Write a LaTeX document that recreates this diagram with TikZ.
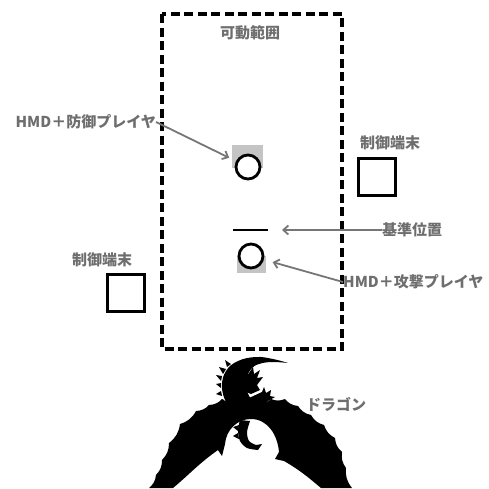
\documentclass[tikz,border=0pt]{standalone}
\usepackage{fontspec}
\setmainfont{Noto Sans CJK JP}
\usepackage{xcolor}
\usetikzlibrary{arrows.meta}
\definecolor{txtgray}{RGB}{110,110,110}
\definecolor{arrgray}{RGB}{118,118,118}
\definecolor{padgray}{RGB}{196,196,196}

\begin{document}
\begin{tikzpicture}[x=1pt,y=-1pt,
  lbl/.style={text=txtgray,font=\fontsize{15}{17}\selectfont\bfseries,inner sep=0pt},
  pointer/.style={draw=arrgray,line width=1.8pt,-{Straight Barb[length=5pt,width=9pt]}},
  term/.style={draw,line width=3.6pt,minimum size=37pt,inner sep=0pt},
  player/.style={draw,fill=white,circle,line width=2.8pt,minimum size=24pt,inner sep=0pt}]
\useasboundingbox (0,0) rectangle (489,488);

% play area
\draw[line width=3.2pt,dash pattern=on 9pt off 4.5pt] (162,14) rectangle (342,349);
\node[lbl] (area) at (250,33) {可動範囲};

% players
\fill[padgray] (232,145) rectangle (263,168);
\node[player] (def) at (248,167) {};
\fill[padgray] (237,256) rectangle (266,273);
\node[player] (atk) at (251,256) {};
\coordinate (refL) at (233,230);
\coordinate (refR) at (268,230);
\draw[line width=2.4pt] (refL) -- (refR);

\node[lbl,anchor=east] (deflbl) at (156,122) {HMD＋防御プレイヤ};
\node[lbl,anchor=west] (reflbl) at (382,230) {基準位置};
\node[lbl,anchor=west] (atklbl) at (343,282) {HMD＋攻撃プレイヤ};
\draw[pointer,shorten >=7.5pt] (deflbl.east) -- (def);
\draw[pointer,shorten >=14pt] (reflbl.west) -- (refR);
\draw[pointer,shorten >=9pt] (atklbl.west) -- (atk);

% terminals
\node[lbl] (termRlbl) at (390,143) {制御端末};
\node[term] (termR) at (377,177) {};
\node[lbl] (termLlbl) at (102,260) {制御端末};
\node[term] (termL) at (126,293) {};

% dragon
\node[lbl] (dragonlbl) at (336,404) {ドラゴン};
\fill (149,488)
  to[bend right=22] (156,475) to[bend right=22] (162,460)
  to[bend right=22] (169,443) to[bend right=22] (180,424)
  to[bend right=22] (196,411) to[bend right=22] (209,405)
  to[bend right=22] (222,399) to[bend right=15] (236,404)
  -- (262,404) to[bend right=15] (271,399)
  to[bend right=22] (285,399) to[bend right=22] (298,406)
  to[bend right=22] (311,415) to[bend right=22] (324,425)
  to[bend right=22] (335,438) to[bend right=22] (342,452)
  to[bend right=22] (346,468) to[bend right=22] (352,488)
  -- (321,488) to[out=140,in=-30] (284,461) -- (275,459) -- (279,452)
  to[out=95,in=0] (251,419) to[out=180,in=85] (225,444)
  -- (222,456) -- (218,450) to[out=215,in=40] (173,488) -- cycle;
% neck and tail
\fill plot[smooth,tension=0.7] coordinates {(254,412) (236,414) (226,402) (222,386) (226,371) (238,361) (256,357) (273,359) (288,363)}
  -- plot[smooth,tension=0.7] coordinates {(288,363) (272,362) (259,364) (251,369) (247,378) (247,390) (252,400) (262,406)} -- cycle;
\foreach \a/\b/\c in {{(223,399)}/{(225,404)}/{(218,404)},{(221,391)}/{(222,396)}/{(216,394)},
  {(221,383)}/{(221,388)}/{(216,384)},{(222,376)}/{(221,381)}/{(216,375)},
  {(226,369)}/{(223,374)}/{(219,367)},{(231,364)}/{(227,367)}/{(225,360)}}
  \fill \a -- \c -- \b -- cycle;
% head
\fill (243,379) -- (249,373) -- (253,367) -- (254,374) -- (260,370) -- (257,378) -- (263,377)
  -- (257,385) -- (260,390) -- (251,394) -- (244,391) -- cycle;
% claws
\fill (249,398) -- (262,392) -- (264,387) -- (266,393) -- (271,390) -- (270,396) -- (275,397)
  -- (268,401) -- (262,407) -- (252,408) -- cycle;
% hind legs
\fill plot[smooth] coordinates {(240,420) (238,430) (240,441) (247,448) (258,450)} -- (262,444) -- (256,445)
  -- plot[smooth] coordinates {(256,445) (249,441) (247,432) (250,421)} -- cycle;
\foreach \a/\b/\c in {{(239,425)}/{(238,431)}/{(233,427)},{(238,433)}/{(239,439)}/{(233,436)}}
  \fill \a -- \c -- \b -- cycle;
\end{tikzpicture}
\end{document}
